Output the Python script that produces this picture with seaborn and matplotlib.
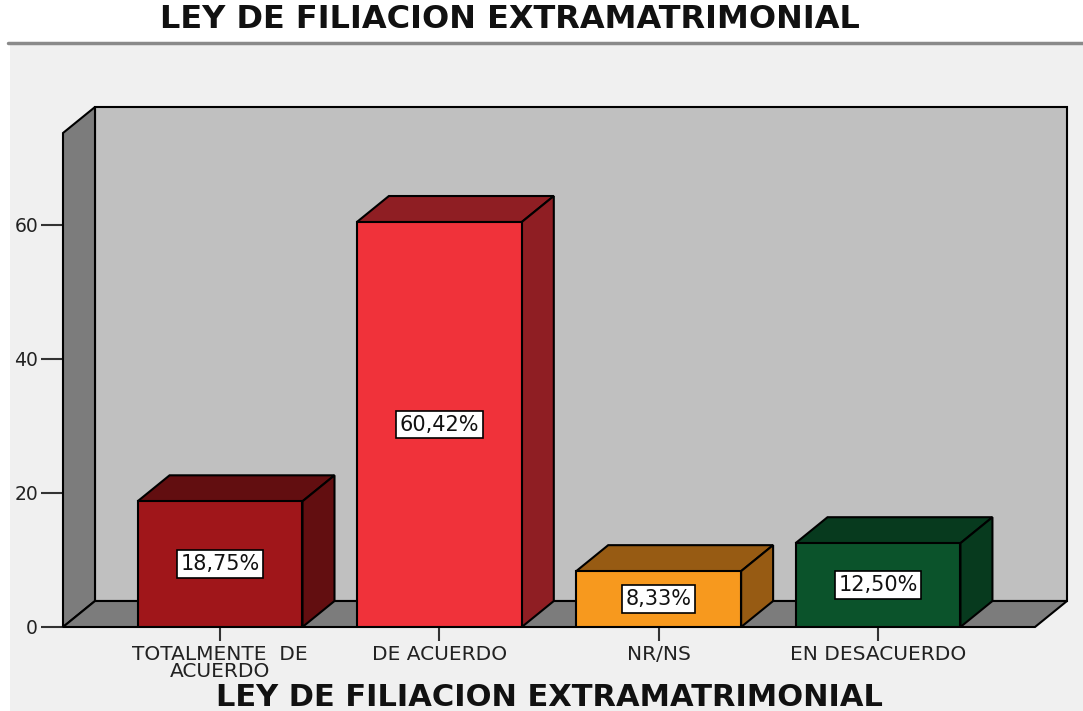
import numpy as np
import pandas as pd
import matplotlib
matplotlib.use("Agg")
import matplotlib.pyplot as plt
import seaborn as sns
from matplotlib.patches import Polygon, Rectangle
from matplotlib.lines import Line2D

# ---- data ----
categories = ["TOTALMENTE  DE\nACUERDO", "DE ACUERDO", "NR/NS", "EN DESACUERDO"]
percentages = [18.75, 60.42, 8.33, 12.50]
value_labels = ["18,75%", "60,42%", "8,33%", "12,50%"]
y_ticks = [0, 20, 40, 60]
title_text = "LEY DE FILIACION EXTRAMATRIMONIAL"
xlabel_text = "LEY DE FILIACION EXTRAMATRIMONIAL"

# ---- styles ----
front_colors = ["#A0161A", "#F0323A", "#F7991E", "#0B532B"]
shade_colors = ["#620E10", "#8F1E23", "#975B13", "#073A1E"]

sns.set_theme(style="white")
plt.rcParams["font.family"] = ["DejaVu Sans"]

W, H = 1083, 711
fig = plt.figure(figsize=(W / 100, H / 100), dpi=100)
fig.patch.set_facecolor("white")
fig.add_artist(Rectangle((10 / W, 0), (W - 10) / W, (H - 45) / H, transform=fig.transFigure,
                         facecolor="#F0F0F0", edgecolor="none", zorder=0))
fig.add_artist(Line2D([8 / W, 1], [1 - 43 / H] * 2, transform=fig.transFigure,
                      color="#8A8A8A", lw=2.5, zorder=1))

ax = fig.add_axes([63 / W, (H - 627) / H, 972 / W, 494 / H])
ax.patch.set_visible(False)
for s in ax.spines.values():
    s.set_visible(False)

df = pd.DataFrame({"cat": categories, "pct": percentages})
sns.barplot(data=df, x="cat", y="pct", hue="cat", order=categories, hue_order=categories,
            palette=front_colors, saturation=1, width=0.752, edgecolor="black",
            linewidth=1.5, legend=False, ax=ax, zorder=4)

x0, x1 = -0.716, 3.716
top = 73.7
ax.set_xlim(x0, x1)
ax.set_ylim(0, top)

# depth offset (pixels -> data units)
inv = ax.transData.inverted()
p0 = ax.transData.transform((0, 0))
dx, dy = inv.transform(p0 + np.array([32.0, 26.0]))

bars = list(ax.patches)

# walls and floor
ax.add_patch(Rectangle((x0 + dx, dy), x1 - x0, top, facecolor="#C0C0C0", edgecolor="black",
                       lw=1.5, zorder=1, clip_on=False))
ax.add_patch(Polygon([(x0, 0), (x0, top), (x0 + dx, top + dy), (x0 + dx, dy)], closed=True,
                     facecolor="#7C7C7C", edgecolor="black", lw=1.5, zorder=2, clip_on=False))
ax.add_patch(Polygon([(x0, 0), (x1, 0), (x1 + dx, dy), (x0 + dx, dy)], closed=True,
                     facecolor="#7C7C7C", edgecolor="black", lw=1.5, zorder=2, clip_on=False))

# 3D faces of bars and value labels
for p, shade, lab in zip(bars, shade_colors, value_labels):
    xl, w, h = p.get_x(), p.get_width(), p.get_height()
    ax.add_patch(Polygon([(xl, h), (xl + w, h), (xl + w + dx, h + dy), (xl + dx, h + dy)],
                         closed=True, facecolor=shade, edgecolor="black", lw=1.5, zorder=3,
                         clip_on=False))
    ax.add_patch(Polygon([(xl + w, 0), (xl + w + dx, dy), (xl + w + dx, h + dy), (xl + w, h)],
                         closed=True, facecolor=shade, edgecolor="black", lw=1.5, zorder=3,
                         clip_on=False))
    ax.text(xl + w / 2, h / 2, lab, ha="center", va="center", fontsize=15, color="#111111",
            zorder=6, bbox=dict(boxstyle="square,pad=0.18", facecolor="white",
                                edgecolor="black", lw=1.2))

ax.set_yticks(y_ticks)
ax.set_yticklabels([str(v) for v in y_ticks])
ax.tick_params(axis="y", left=True, length=16, width=1.5, color="#333333", labelsize=13.5,
               labelcolor="#222222", pad=2)
ax.tick_params(axis="x", bottom=True, length=10, width=1.5, color="#333333", labelsize=14.5,
               labelcolor="#222222", pad=3)
for t in ax.get_xticklabels():
    t.set_linespacing(0.85)

ax.set_ylabel("")
ax.set_xlabel(xlabel_text, fontsize=22, fontweight="bold", color="#111111")
ax.xaxis.set_label_coords(0.5, (627 - 698) / 494)
ax.xaxis.label.set_va("center")

fig.suptitle(title_text, x=510 / W, y=1 - 20 / H, va="center", fontsize=23,
             fontweight="bold", color="#111111")

fig.savefig("out.png", dpi=100)
